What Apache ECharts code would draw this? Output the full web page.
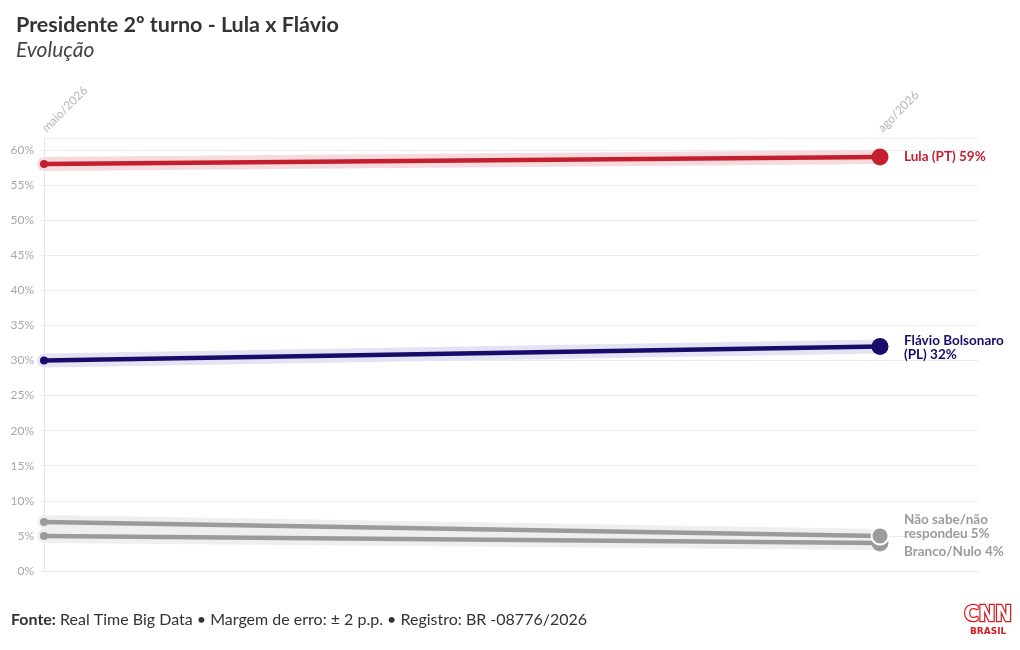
<!DOCTYPE html>
<html><head><meta charset="utf-8">
<script src="https://cdn.jsdelivr.net/npm/echarts@6/dist/echarts.min.js"></script>
<style>html,body{margin:0;padding:0;background:#fff}#c{width:1020px;height:650px}</style>
</head><body><div id="c"></div>
<script>
const categories = ['maio/2026', 'ago/2026'];
const lula = [58, 59];
const flavio = [30, 32];
const naoSabe = [7, 5];
const branco = [5, 4];
const yTicks = [0, 5, 10, 15, 20, 25, 30, 35, 40, 45, 50, 55, 60];

const FONT = 'Lato, "Open Sans", sans-serif';
const RED = '#c41f2e', NAVY = '#170c6a', GREY = '#9b9b9b';

function pts(arr){ return arr.map((v,i)=>[i,v]); }
const last = categories.length - 1;
const xMax = (978-44)/(880-44);

function band(name, data, color){
  return {type:'line', name:name+'_band', data:pts(data), silent:true, symbol:'none', z:1,
    lineStyle:{width:14, color:color, opacity:1, cap:'round'}};
}
function main(name, data, color, label, off, border){
  return {type:'line', name:name, z: border ? 4 : 3,
    data:pts(data).map((p,i)=>({value:p, itemStyle: (border && i===last) ? {borderColor:'#fff', borderWidth:2} : {}})),
    symbol:'circle',
    symbolSize:(v,p)=> p.dataIndex===last ? 17 : 8,
    itemStyle:{color:color},
    lineStyle:{width:4.5, color:color},
    endLabel:{show:true, formatter:label, color:color, fontFamily:FONT, fontWeight:'bold',
      fontSize:13.5, lineHeight:14, distance:24, offset:off, align:'left'}
  };
}

const chart = echarts.init(document.getElementById('c'), null, {renderer:'canvas'});
chart.setOption({
  animation:false,
  backgroundColor:'#fff',
  title:{text:'Presidente 2º turno - Lula x Flávio', subtext:'Evolução', left:11, top:9,
    textStyle:{fontFamily:FONT, fontSize:21.5, fontWeight:'bold', color:'#333'},
    subtextStyle:{fontFamily:FONT, fontSize:21, fontStyle:'italic', color:'#444'}, itemGap:4},
  grid:{left:44, right:42, top:138, bottom:79},
  xAxis:{type:'value', position:'top', min:0, max:xMax, interval:1,
    axisLine:{show:true, lineStyle:{color:'#e6e6e6'}},
    axisTick:{show:true, length:11, customValues:[0], lineStyle:{color:'#e6e6e6'}},
    splitLine:{show:false},
    axisLabel:{rotate:45, color:'#b5b5b5', fontFamily:FONT, fontSize:12, margin:8,
      showMaxLabel:false,
      formatter:v=> (Number.isInteger(v) && categories[v]) ? categories[v] : ''}},
  yAxis:{type:'value', min:0, max:60+12/7.02, interval:5,
    axisLine:{show:true, lineStyle:{color:'#e6e6e6'}},
    axisTick:{show:true, length:4, lineStyle:{color:'#eee'}},
    splitLine:{show:true, lineStyle:{color:'#ececec'}},
    axisLabel:{color:'#a8a8a8', fontFamily:FONT, fontSize:12, margin:10, showMaxLabel:false,
      formatter:v=> yTicks.indexOf(v)>=0 ? v+'%' : ''}},
  series:[
    band('lula', lula, '#f6dadd'),
    band('flavio', flavio, '#e5e2f4'),
    band('naoSabe', naoSabe, '#efefef'),
    band('branco', branco, '#efefef'),
    main('Branco/Nulo', branco, GREY, 'Branco/Nulo 4%', [0, 9], false),
    main('Não sabe/não respondeu', naoSabe, GREY, 'Não sabe/não\nrespondeu 5%', [0, -9], true),
    main('Flávio Bolsonaro (PL)', flavio, NAVY, 'Flávio Bolsonaro\n(PL) 32%', [0, 1], false),
    main('Lula (PT)', lula, RED, 'Lula (PT) 59%', [0, 0], false)
  ],
  graphic:[
    {type:'text', left:11, top:612, style:{
      text:'{b|Fonte:} Real Time Big Data • Margem de erro: ± 2 p.p. • Registro: BR -08776/2026',
      fontFamily:FONT, fontSize:16, fill:'#333',
      rich:{b:{fontFamily:FONT, fontSize:16, fontWeight:'bold', fill:'#333'}}}},
    {type:'text', left:963, top:603, style:{text:'CNN', fontFamily:'"DejaVu Sans Condensed", "DejaVu Sans", sans-serif',
      fontSize:22, fontWeight:'bold', fill:'#fff', stroke:'#d41e22', lineWidth:2.5}},
    {type:'text', left:970, top:627, style:{text:'BRASIL', fontFamily:'"DejaVu Sans", sans-serif',
      fontSize:9, fontWeight:'bold', fill:'#d41e22'}}
  ]
});
</script></body></html>
